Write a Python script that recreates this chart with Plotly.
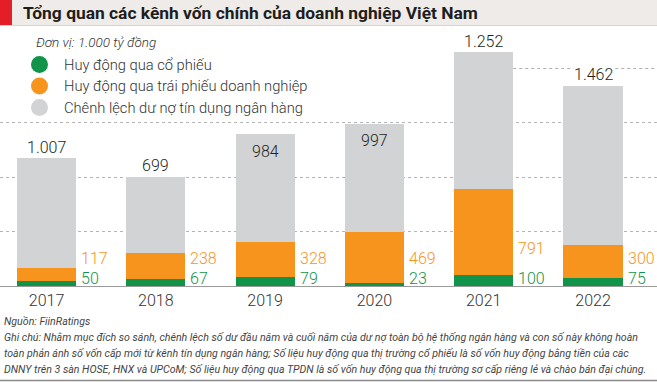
import plotly.graph_objects as go

years = ["2017", "2018", "2019", "2020", "2021", "2022"]
co_phieu = [50, 67, 79, 23, 100, 75]
trai_phieu = [117, 238, 328, 469, 791, 300]
tin_dung = [1007, 699, 984, 997, 1252, 1462]
tin_dung_labels = ["1.007", "699", "984", "997", "1.252", "1.462"]

series_names = ["Huy động qua cổ phiếu", "Huy động qua trái phiếu doanh nghiệp",
                "Chênh lệch dư nợ tín dụng ngân hàng"]
colors = ["#11944a", "#f7941e", "#d1d3d4"]
grid_vals = [500, 1000, 1500]
top_grid = 2000

title = "Tổng quan các kênh vốn chính của doanh nghiệp Việt Nam"
unit = "Đơn vị: 1.000 tỷ đồng"
source = "Nguồn: FiinRatings"
note_lines = [
    "Ghi chú: Nhằm mục đích so sánh, chênh lệch số dư đầu năm và cuối năm của dư nợ toàn bộ hệ thống ngân hàng và con số này không hoàn",
    "toàn phản ánh số vốn cấp mới từ kênh tín dụng ngân hàng; Số liệu huy động qua thị trường cổ phiếu là số vốn huy động bằng tiền của các",
    "DNNY trên 3 sàn HOSE, HNX và UPCoM; Số liệu huy động qua TPDN là số vốn huy động qua thị trường sơ cấp riêng lẻ và chào bán đại chúng.",
]

# label placement style (pixels)
total_inside = [False, False, True, True, False, False]
orange_shift = [28, 28, 28, 28, 38, 28]
green_shift = 8

W, H = 657, 382
T, B = 30, 286  # plot area top / baseline in px
SCALE = 0.109   # px per unit
BAR_W = 0.54
SLOT = 109.3
FIRST = 46.5  # px centre of first category
FONT = "Roboto"


def py(p):
    return (B - p) / (B - T)


def px(p):
    return p / W


x_lo = -FIRST / SLOT
x_hi = (W - FIRST) / SLOT
y_hi = (B - T) / SCALE

fig = go.Figure()
for vals, name, col in zip([co_phieu, trai_phieu, tin_dung], series_names, colors):
    fig.add_trace(go.Bar(x=years, y=vals, name=name, marker_color=col,
                         marker_line_width=0, width=BAR_W, showlegend=False,
                         hoverinfo="skip"))

totals = [a + b + c for a, b, c in zip(co_phieu, trai_phieu, tin_dung)]
ann = []
num_font = dict(size=16, family=FONT, weight=300)
for i, yr in enumerate(years):
    if total_inside[i]:
        ann.append(dict(xref="x", yref="y", x=i, y=totals[i], text=tin_dung_labels[i], showarrow=False,
                        yanchor="middle", yshift=-17, font=dict(num_font, color="#231f20")))
    else:
        ann.append(dict(xref="x", yref="y", x=i, y=totals[i], text=tin_dung_labels[i], showarrow=False,
                        yanchor="middle", yshift=11, bgcolor="white", borderpad=0,
                        font=dict(num_font, color="#231f20")))
    ann.append(dict(xref="x", yref="y", x=i, y=0, text=str(trai_phieu[i]), showarrow=False, xanchor="left",
                    yanchor="middle", xshift=BAR_W / 2 * SLOT + 3, yshift=orange_shift[i],
                    font=dict(num_font, color=colors[1])))
    ann.append(dict(xref="x", yref="y", x=i, y=0, text=str(co_phieu[i]), showarrow=False, xanchor="left",
                    yanchor="middle", xshift=BAR_W / 2 * SLOT + 3, yshift=green_shift,
                    font=dict(num_font, color=colors[0])))

# title
ann.append(dict(xref="paper", yref="paper", x=px(21), y=py(13), text="<b>" + title + "</b>",
                showarrow=False, xanchor="left", yanchor="middle",
                font=dict(size=17.4, color="#1d1d1b", family=FONT)))
# unit
ann.append(dict(xref="paper", yref="paper", x=px(34), y=py(42), text="<i>" + unit + "</i>",
                showarrow=False, xanchor="left", yanchor="middle",
                font=dict(size=13.5, color="#333333", family=FONT, weight=300)))
legend_y = [64.5, 86, 107.5]
shapes = []
for name, col, ly in zip(series_names, colors, legend_y):
    ann.append(dict(xref="paper", yref="paper", x=px(62), y=py(ly), text=name,
                    showarrow=False, xanchor="left", yanchor="middle",
                    font=dict(size=14.7, color="#333333", family=FONT, weight=300)))
    shapes.append(dict(type="circle", xref="paper", yref="paper", x0=px(31), x1=px(48),
                       y0=py(ly + 8.5), y1=py(ly - 8.5), fillcolor=col, line_width=0))

# footer
ann.append(dict(xref="paper", yref="paper", x=px(2), y=py(321), text="<i>" + source + "</i>",
                showarrow=False, xanchor="left", yanchor="middle",
                font=dict(size=10.6, color="#444444", family=FONT)))
for k, line in enumerate(note_lines):
    ann.append(dict(xref="paper", yref="paper", x=px(2), y=py(337 + 16 * k), text="<i>" + line + "</i>",
                    showarrow=False, xanchor="left", yanchor="middle",
                    font=dict(size=10.6, color="#444444", family=FONT)))

# title band
shapes.append(dict(type="rect", xref="paper", yref="paper", x0=0, x1=1, y0=py(25), y1=py(0),
                   fillcolor="#eeebe9", line_width=0, layer="below"))
shapes.append(dict(type="line", xref="paper", yref="paper", x0=0, x1=1, y0=py(25.5), y1=py(25.5),
                   line=dict(color="#d8d4d1", width=1)))
shapes.append(dict(type="rect", xref="paper", yref="paper", x0=0, x1=px(12), y0=py(25), y1=py(0),
                   fillcolor="#e31e26", line_width=0))
# top gridline, drawn only to the right of the 2021 bar (legend sits to its left)
bar21_right = (4 + BAR_W / 2 - x_lo) / (x_hi - x_lo)
top_grid_px = round(B - top_grid * SCALE) + 0.5
shapes.append(dict(type="line", xref="paper", yref="paper", x0=bar21_right, x1=1,
                   y0=py(top_grid_px), y1=py(top_grid_px),
                   line=dict(color="#b0b0b0", width=1, dash="dot"), layer="above"))
# bottom rule
shapes.append(dict(type="line", xref="paper", yref="paper", x0=0, x1=1, y0=py(380.5), y1=py(380.5),
                   line=dict(color="#8a8a8a", width=1.5)))

fig.update_layout(
    width=W, height=H, margin=dict(l=0, r=0, t=T, b=H - B),
    paper_bgcolor="white", plot_bgcolor="white", barmode="stack",
    annotations=ann, shapes=shapes, hovermode=False,
    xaxis=dict(type="category", range=[x_lo, x_hi], showgrid=False, showline=True,
               linecolor="#9a9a9a", linewidth=1, ticks="",
               tickfont=dict(size=16, color="#333333", family=FONT, weight=300),
               fixedrange=True),
    yaxis=dict(range=[0, y_hi], tickvals=grid_vals, showticklabels=False, showgrid=True,
               gridcolor="#b5b5b5", griddash="dot", gridwidth=1, zeroline=False, fixedrange=True),
)

fig.write_html("out.html", config={"displayModeBar": False},
               post_script="document.body.style.margin='0px';")
